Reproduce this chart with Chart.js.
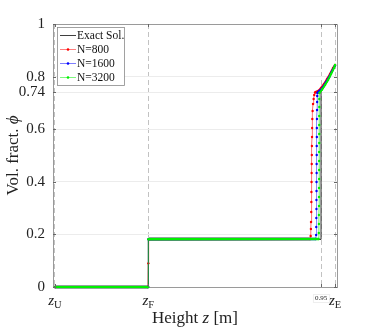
<!DOCTYPE html>
<html>
<head>
<meta charset="utf-8">
<script src="https://cdn.jsdelivr.net/npm/chart.js@4.4.0/dist/chart.umd.min.js"></script>
<style>
  body { margin: 0; background: #fff; }
  #wrap { width: 374px; height: 331px; }
</style>
</head>
<body>
<div id="wrap"><canvas id="chart_phi" width="374" height="331"></canvas></div>
<script>
// series names / colours
var seriesNames = ['Exact Sol.', 'N=800', 'N=1600', 'N=3200'];
var seriesColors = ['#2a2a2a', '#ff0000', '#0000ff', '#00f000'];
var seriesLight = ['#2a2a2a', 'rgba(255,0,0,0.55)', 'rgba(0,0,255,0.5)', 'rgba(0,230,0,0.6)'];

// axis ticks
var xTickVals = [0, 0.3333, 0.95, 1];
var xTickMain = ['z', 'z', '0.95', 'z'];
var xTickSub = ['U', 'F', '', 'E'];
var yTickVals = [0, 0.2, 0.4, 0.6, 0.74, 0.8, 1];

// exact solution
var exactZ   = [0, 0.3333, 0.3333, 0.95, 0.95, 0.9607, 0.9714, 0.9821, 0.9929, 1.0];
var exactPhi = [0, 0, 0.181, 0.181, 0.743, 0.760, 0.779, 0.800, 0.823, 0.840];

// N=800
var n800Z = [0, 0.332, 0.3333, 0.3346,
  0.9114, 0.9129, 0.9139, 0.9143, 0.9150, 0.9154, 0.9157, 0.9161, 0.9164, 0.9168,
  0.9171, 0.9175, 0.9179, 0.9182, 0.9189, 0.9200, 0.9214, 0.9236, 0.9257, 0.9286,
  0.9393, 0.95, 0.9607, 0.9714, 0.9821, 0.9929, 1.0];
var n800Phi = [0, 0, 0.09, 0.182,
  0.1825, 0.1939, 0.2205, 0.2471, 0.2852, 0.3232, 0.3612, 0.3992, 0.4335, 0.4677,
  0.5019, 0.5361, 0.5703, 0.6046, 0.6388, 0.6692, 0.6958, 0.7148, 0.7300, 0.7395,
  0.745, 0.757, 0.772, 0.791, 0.810, 0.833, 0.844];

// N=1600
var n1600Z = [0, 0.3328, 0.3338,
  0.9314, 0.9325, 0.9329, 0.9332, 0.9336, 0.9336, 0.9339, 0.9339, 0.9343, 0.9343,
  0.9346, 0.9346, 0.9350, 0.9350, 0.9354, 0.9357, 0.9361, 0.9364, 0.9371,
  0.9464, 0.9571, 0.9679, 0.9786, 0.9893, 1.0];
var n1600Phi = [0, 0, 0.182,
  0.1825, 0.1977, 0.2281, 0.2624, 0.2966, 0.3308, 0.3650, 0.3992, 0.4335, 0.4677,
  0.5019, 0.5361, 0.5703, 0.6046, 0.6388, 0.6730, 0.7034, 0.7262, 0.7376,
  0.747, 0.760, 0.779, 0.798, 0.821, 0.842];

// N=3200
var n3200Z = [0, 0.3330, 0.3336,
  0.9414, 0.9421, 0.9425, 0.9425, 0.9429, 0.9429, 0.9429, 0.9432, 0.9432, 0.9432,
  0.9432, 0.9436, 0.9436, 0.9436, 0.9436, 0.9439, 0.9439, 0.9443,
  0.9536, 0.9643, 0.975, 0.9857, 0.9964, 1.0];
var n3200Phi = [0, 0, 0.182,
  0.1825, 0.2053, 0.2395, 0.2738, 0.3080, 0.3422, 0.3764, 0.4106, 0.4449, 0.4791,
  0.5133, 0.5475, 0.5817, 0.6160, 0.6502, 0.6844, 0.7148, 0.7376,
  0.751, 0.768, 0.787, 0.810, 0.833, 0.844];

var serif = "'Liberation Serif', 'DejaVu Serif', serif";

function toPoints(zs, phis) {
  return zs.map(function(z, i) { return {x: z, y: phis[i]}; });
}

// flat parts look thick in the original (dense markers), fronts thin
function segWidth(c) {
  var dx = Math.abs(c.p1.x - c.p0.x);
  var dy = Math.abs(c.p1.y - c.p0.y);
  if (dy <= dx) return 2.6;
  if (dy < 3 * dx) return 2;
  return 1;
}

function numSet(idx, zs, phis, ord) {
  return {
    label: seriesNames[idx],
    data: toPoints(zs, phis),
    borderColor: seriesColors[idx],
    backgroundColor: seriesColors[idx],
    borderWidth: 1,
    pointRadius: 1.2,
    pointBorderWidth: 0,
    pointBackgroundColor: seriesColors[idx],
    segment: {
      borderWidth: segWidth,
      borderColor: function(c) {
        return segWidth(c) === 1 ? seriesLight[idx] : seriesColors[idx];
      }
    },
    order: ord,
    clip: 4
  };
}

var decorPlugin = {
  id: 'decor',
  afterDraw: function(chart) {
    var ctx = chart.ctx;
    var a = chart.chartArea;
    var xs = chart.scales.x, ys = chart.scales.y;
    ctx.save();

    // top / right box lines
    ctx.strokeStyle = '#9a9a9a';
    ctx.lineWidth = 1;
    ctx.beginPath();
    ctx.moveTo(a.left, a.top + 0.5);
    ctx.lineTo(a.right + 0.5, a.top + 0.5);
    ctx.lineTo(a.right + 0.5, a.bottom);
    ctx.stroke();

    // inner tick marks
    ctx.strokeStyle = '#666';
    ctx.beginPath();
    yTickVals.forEach(function(v) {
      var py = Math.round(ys.getPixelForValue(v)) + 0.5;
      ctx.moveTo(a.left, py); ctx.lineTo(a.left + 3, py);
      ctx.moveTo(a.right, py); ctx.lineTo(a.right - 3, py);
    });
    xTickVals.forEach(function(v) {
      var px = Math.round(xs.getPixelForValue(v)) + 0.5;
      ctx.moveTo(px, a.bottom); ctx.lineTo(px, a.bottom - 3);
      ctx.moveTo(px, a.top); ctx.lineTo(px, a.top + 3);
    });
    ctx.stroke();

    // x tick labels
    ctx.fillStyle = '#222';
    ctx.textBaseline = 'alphabetic';
    xTickVals.forEach(function(v, i) {
      var px = xs.getPixelForValue(v);
      if (xTickSub[i] === '') {
        ctx.font = '7px ' + serif;
        var w0 = ctx.measureText(xTickMain[i]).width;
        ctx.fillStyle = '#fff';
        ctx.fillRect(px - w0 / 2 - 2, a.bottom + 7, w0 + 4, 8);
        ctx.strokeStyle = '#eeeeee';
        ctx.strokeRect(px - w0 / 2 - 2 + 0.5, a.bottom + 7.5, w0 + 4, 8);
        ctx.fillStyle = '#222';
        ctx.textAlign = 'left';
        ctx.fillText(xTickMain[i], px - w0 / 2, a.bottom + 13);
        return;
      }
      ctx.font = 'italic 15px ' + serif;
      var wm = ctx.measureText(xTickMain[i]).width;
      ctx.font = '10.5px ' + serif;
      var ws = ctx.measureText(xTickSub[i]).width;
      var x0 = px - (wm + ws) / 2;
      ctx.textAlign = 'left';
      ctx.font = 'italic 15px ' + serif;
      ctx.fillText(xTickMain[i], x0, a.bottom + 18);
      ctx.font = '10.5px ' + serif;
      ctx.fillText(xTickSub[i], x0 + wm, a.bottom + 21);
    });

    // x axis title: Height z [m]
    var p1 = 'Height ', p2 = 'z', p3 = ' [m]';
    ctx.font = '17px ' + serif;
    var w1 = ctx.measureText(p1).width, w3 = ctx.measureText(p3).width;
    ctx.font = 'italic 17px ' + serif;
    var w2 = ctx.measureText(p2).width;
    var cx = (a.left + a.right) / 2;
    var tx = cx - (w1 + w2 + w3) / 2;
    ctx.font = '17px ' + serif;
    ctx.fillText(p1, tx, 323);
    ctx.font = 'italic 17px ' + serif;
    ctx.fillText(p2, tx + w1, 323);
    ctx.font = '17px ' + serif;
    ctx.fillText(p3, tx + w1 + w2, 323);

    // y axis title: Vol. fract. phi
    ctx.save();
    ctx.translate(18, (a.top + a.bottom) / 2);
    ctx.rotate(-Math.PI / 2);
    var q1 = 'Vol. fract. ', q2 = '\u03D5';
    ctx.font = '17px ' + serif;
    var v1 = ctx.measureText(q1).width;
    ctx.font = 'italic 17px ' + serif;
    var v2 = ctx.measureText(q2).width;
    ctx.font = '17px ' + serif;
    ctx.fillText(q1, -(v1 + v2) / 2, 0);
    ctx.font = 'italic 17px ' + serif;
    ctx.fillText(q2, -(v1 + v2) / 2 + v1, 0);
    ctx.restore();

    // legend
    var lx = a.left + 4, ly = a.top + 3, lw = 67, lh = 58;
    ctx.fillStyle = '#fff';
    ctx.fillRect(lx, ly, lw, lh);
    ctx.strokeStyle = '#8a8a8a';
    ctx.lineWidth = 0.8;
    ctx.strokeRect(lx + 0.5, ly + 0.5, lw, lh);
    ctx.font = '11.5px ' + serif;
    ctx.textBaseline = 'middle';
    ctx.textAlign = 'left';
    seriesNames.forEach(function(name, i) {
      var yy = ly + 8.5 + i * 14;
      ctx.strokeStyle = seriesColors[i];
      ctx.globalAlpha = i === 0 ? 0.9 : 0.5;
      ctx.lineWidth = 1;
      ctx.beginPath();
      ctx.moveTo(lx + 3, yy); ctx.lineTo(lx + 19, yy);
      ctx.stroke();
      ctx.globalAlpha = 1;
      if (i > 0) {
        ctx.fillStyle = seriesColors[i];
        ctx.beginPath();
        ctx.arc(lx + 11, yy, 1.3, 0, Math.PI * 2);
        ctx.fill();
      }
      ctx.fillStyle = '#111';
      ctx.fillText(name, lx + 20, yy + 0.5);
    });

    ctx.restore();
  }
};

var chart_phi = new Chart(document.getElementById('chart_phi').getContext('2d'), {
  type: 'line',
  data: {
    datasets: [
      {
        label: seriesNames[0],
        data: toPoints(exactZ, exactPhi),
        borderColor: seriesColors[0],
        borderWidth: 1,
        pointRadius: 0,
        order: 3,
        clip: 4
      },
      numSet(1, n800Z, n800Phi, 2),
      numSet(2, n1600Z, n1600Phi, 1),
      numSet(3, n3200Z, n3200Phi, 0)
    ]
  },
  options: {
    responsive: false,
    animation: false,
    layout: { padding: { top: 24, right: 37, left: 0, bottom: 0 } },
    plugins: {
      legend: { display: false },
      tooltip: { enabled: false }
    },
    scales: {
      x: {
        type: 'linear',
        min: -0.007,
        max: 1.007,
        afterBuildTicks: function(scale) {
          scale.ticks = xTickVals.map(function(v) { return {value: v}; });
        },
        afterFit: function(scale) { scale.height = 44; },
        ticks: { display: false },
        grid: { color: '#c2c2c2', lineWidth: 1, drawTicks: false },
        border: { color: '#9a9a9a', dash: [5, 3] }
      },
      y: {
        type: 'linear',
        min: 0,
        max: 1,
        afterBuildTicks: function(scale) {
          scale.ticks = yTickVals.map(function(v) { return {value: v}; });
        },
        afterFit: function(scale) { scale.width = 53; },
        ticks: {
          padding: 8,
          color: '#222',
          font: { family: serif, size: 15 },
          callback: function(v) { return String(v); }
        },
        grid: { color: '#ececec', lineWidth: 1, drawTicks: false },
        border: { color: '#9a9a9a' }
      }
    }
  },
  plugins: [decorPlugin]
});
</script>
</body>
</html>
